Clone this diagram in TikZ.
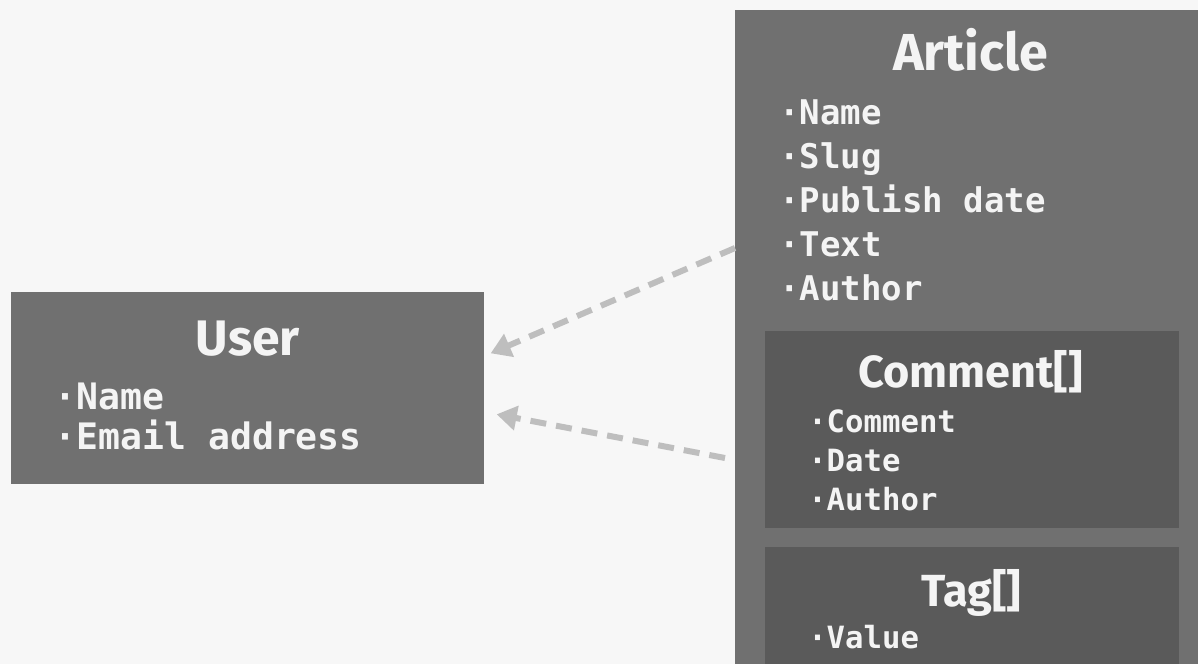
\documentclass[tikz,border=0pt]{standalone}
\usepackage{fontspec}
\setsansfont{Fira Sans}
\setmonofont{DejaVu Sans Mono}
\usepackage{xcolor}
\definecolor{pageBg}{HTML}{F7F7F7}
\definecolor{classGray}{HTML}{707070}
\definecolor{innerGray}{HTML}{5A5A5A}
\definecolor{linkGray}{HTML}{BEBEBE}
\definecolor{labelWhite}{HTML}{F4F4F4}
\usetikzlibrary{
    arrows.meta,
    positioning,
    calc
}
\tikzset{
    % Outer class boxes - flat gray rectangles
    classbox/.style={
        rectangle,
        fill=classGray,
        draw=none,
        inner sep=0pt,
        anchor=north west,
    },
    % Nested boxes - darker gray
    innerbox/.style={
        classbox,
        fill=innerGray,
    },
    % Class titles - bold sans
    classtitle/.style={
        font=\sffamily\bfseries\fontsize{37}{40}\selectfont,
        text=labelWhite,
        inner sep=0pt,
        anchor=base,
    },
    % Field lines - monospace with a middle dot
    field/.style={
        font=\ttfamily\bfseries\fontsize{24.2}{28}\selectfont,
        text=labelWhite,
        inner sep=0pt,
        anchor=base west,
    },
    % Reference arrows - dashed light gray
    link/.style={
        -{Triangle[length=0.5cm, width=0.6cm]},
        line width=0.15cm,
        draw=linkGray,
        dash pattern=on 0.4cm off 0.25cm,
    },
}

\begin{document}
\begin{tikzpicture}[x=0.025cm, y=-0.025cm]
    \fill[pageBg] (0,0) rectangle (1198,664);
    \useasboundingbox (0,0) rectangle (1198,664);

    \node (user) [classbox, minimum width=11.825cm, minimum height=4.8cm] at (11,292) {};
    \node (article) [classbox, minimum width=11.575cm, minimum height=16.35cm] at (735,10) {};
    \node (comment) [innerbox, minimum width=10.35cm, minimum height=4.925cm] at (765,331) {};
    \node (tag) [innerbox, minimum width=10.35cm, minimum height=2.925cm] at (765,547) {};

    \node (usertitle) [classtitle, font=\sffamily\bfseries\fontsize{35.5}{38}\selectfont] at ($(user.north)+(0,63)$) {User};
    \node (articletitle) [classtitle] at ($(article.north)+(4,60)$) {Article};
    \node (commenttitle) [classtitle, font=\sffamily\bfseries\fontsize{32}{36}\selectfont] at ($(comment.north)+(-2,56)$) {Comment[]};
    \node (tagtitle) [classtitle, font=\sffamily\bfseries\fontsize{32}{36}\selectfont] at ($(tag.north)+(-1,59)$) {Tag[]};

    \node (username) [field, font=\ttfamily\bfseries\fontsize{25.9}{30}\selectfont] at ($(user.north west)+(43.5,117)$) {·Name};
    \node (useremail) [field, font=\ttfamily\bfseries\fontsize{25.9}{30}\selectfont] at ($(user.north west)+(43.5,157)$) {·Email address};

    \node (artname) [field] at ($(article.north west)+(44,114)$) {·Name};
    \node (artslug) [field] at ($(article.north west)+(44,158)$) {·Slug};
    \node (artdate) [field] at ($(article.north west)+(44,202)$) {·Publish date};
    \node (arttext) [field] at ($(article.north west)+(44,246)$) {·Text};
    \node (artauthor) [field] at ($(article.north west)+(44,290)$) {·Author};

    \node (comtext) [field, font=\ttfamily\bfseries\fontsize{21.8}{26}\selectfont] at ($(comment.north west)+(43,101)$) {·Comment};
    \node (comdate) [field, font=\ttfamily\bfseries\fontsize{21.8}{26}\selectfont] at ($(comment.north west)+(43,140)$) {·Date};
    \node (comauthor) [field, font=\ttfamily\bfseries\fontsize{21.8}{26}\selectfont] at ($(comment.north west)+(43,179)$) {·Author};

    \node (tagvalue) [field, font=\ttfamily\bfseries\fontsize{21.8}{26}\selectfont] at ($(tag.north west)+(43,101)$) {·Value};

    \draw [link] ($(article.north west)+(0,238)$) -- ($(user.east)+(6,-35)$);
    \draw [link] ($(article.north west)+(-10,448)$) -- ($(user.east)+(12,26)$);
\end{tikzpicture}
\end{document}
